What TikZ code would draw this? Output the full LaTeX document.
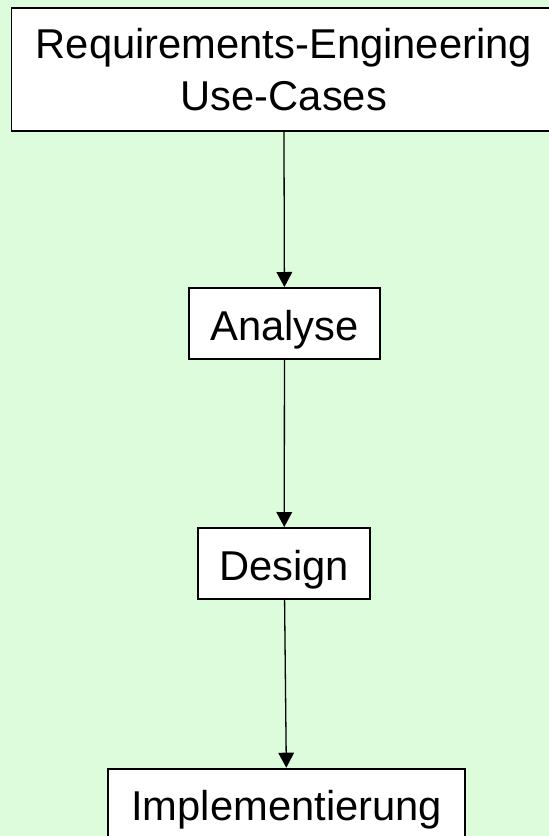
\documentclass[tikz,border=0pt]{standalone}
\usepackage{fontspec}
\setmainfont{Liberation Sans}
\usetikzlibrary{arrows.meta}
\definecolor{bg}{RGB}{220,252,220}
\begin{document}
\begin{tikzpicture}[x=1pt,y=-1pt,
  box/.style={draw=black,line width=1.8pt,fill=white,inner sep=0pt,
    font=\fontsize{41.7}{51.7}\selectfont,align=center},
  single/.style={text height=33pt,text depth=0pt,minimum height=71.2pt},
  flow/.style={-{Triangle[width=15.7pt,length=15pt]},line width=1.3pt}]
\fill[bg] (0,0) rectangle (549,836);
\useasboundingbox (0,0) rectangle (549,836);
\node[box,minimum width=544.5pt,minimum height=122.6pt] (req) at (283.8,69.5) {Requirements-Engineering\\Use-Cases};
\node[box,single,minimum width=190.6pt] (ana) at (284.5,323.5) {Analyse};
\node[box,single,minimum width=171.9pt] (des) at (284.2,563.5) {Design};
\node[box,single,minimum width=356.9pt] (imp) at (286.7,804.2) {Implementierung};
\draw[flow] (req) -- (ana);
\draw[flow] (ana) -- (des);
\draw[flow] (des) -- (imp);
\end{tikzpicture}
\end{document}
